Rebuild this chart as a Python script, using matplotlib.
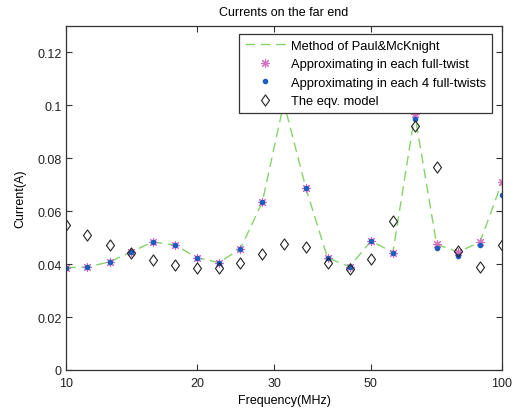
import numpy as np
import matplotlib
matplotlib.use('Agg')
from matplotlib import pyplot as plt
from matplotlib.path import Path
from matplotlib.ticker import FixedLocator, FixedFormatter, NullLocator

plt.rcParams['font.family'] = ['Liberation Sans', 'DejaVu Sans']

freq = [10, 11.2, 12.6, 14.1, 15.8, 17.8, 20, 22.4, 25.1, 28.2, 31.6,
        35.5, 39.8, 44.7, 50.1, 56.2, 63.1, 70.8, 79.4, 89.1, 100]
paul = [0.0387, 0.0389, 0.0409, 0.0446, 0.0484, 0.0472, 0.0424, 0.0406,
        0.0457, 0.0635, 0.101, 0.0687, 0.0424, 0.0390, 0.0488, 0.0444,
        0.0966, 0.0475, 0.0446, 0.0484, 0.0711]
each_twist = paul
each_4_twists = [0.0387, 0.0389, 0.0409, 0.0446, 0.0484, 0.0472, 0.0424, 0.0406,
                 0.0457, 0.0635, 0.101, 0.0687, 0.0424, 0.0390, 0.0488, 0.0444,
                 0.0950, 0.0462, 0.0431, 0.0473, 0.0660]
eqv_model = [0.0547, 0.0509, 0.0474, 0.0444, 0.0415, 0.0396, 0.0386, 0.0384,
             0.0403, 0.0437, 0.0478, 0.0463, 0.0406, 0.0380, 0.0419, 0.0563,
             0.0922, 0.0769, 0.0450, 0.0390, 0.0474]

xticks = [10, 20, 30, 50, 100]
yticks = [0, 0.02, 0.04, 0.06, 0.08, 0.1, 0.12]
ytick_labels = ['0', '0.02', '0.04', '0.06', '0.08', '0.1', '0.12']

# matlab-like diamond, a bit wider than matplotlib's thin 'd'
diamond = Path([(0, 1), (0.72, 0), (0, -1), (-0.72, 0), (0, 1)],
               [Path.MOVETO, Path.LINETO, Path.LINETO, Path.LINETO, Path.CLOSEPOLY])

fig = plt.figure(figsize=(5.15, 4.10), dpi=100)
ax = fig.add_axes([66/515, 1 - 371/410, 436/515, 344/410])

ax.plot(freq, paul, '--', color='#86d36a', lw=1.0, dashes=(7, 4),
        label='Method of Paul&McKnight')
ax.plot(freq, each_twist, ls='none', marker=(8, 2, 0), ms=6.5, mew=0.8,
        color='#d46fc2', label='Approximating in each full-twist')
ax.plot(freq, each_4_twists, ls='none', marker='.', ms=6,
        color='#1d5cc0', label='Approximating in each 4 full-twists')
ax.plot(freq, eqv_model, ls='none', marker=diamond, ms=8, mew=0.8,
        mfc='none', mec='#222222', label='The eqv. model')

ax.set_xscale('log')
ax.set_xlim(10, 100)
ax.set_ylim(0, 0.13)
ax.xaxis.set_major_locator(FixedLocator(xticks))
ax.xaxis.set_major_formatter(FixedFormatter([str(t) for t in xticks]))
ax.xaxis.set_minor_locator(NullLocator())
ax.yaxis.set_major_locator(FixedLocator(yticks))
ax.yaxis.set_major_formatter(FixedFormatter(ytick_labels))

ax.tick_params(direction='in', length=4, width=0.8, top=True, right=True,
               labelsize=9, colors='#333333', labelcolor='#222222', pad=3)
ax.tick_params(axis='x', pad=5)
for s in ax.spines.values():
    s.set_color('#333333')
    s.set_linewidth(0.9)

ax.set_title('Currents on the far end', fontsize=9, pad=8)
ax.set_xlabel('Frequency(MHz)', fontsize=9, labelpad=4)
ax.set_ylabel('Current(A)', fontsize=9, labelpad=8)

leg = ax.legend(loc='upper right', bbox_to_anchor=(492/515, 1 - 35/410),
                bbox_transform=fig.transFigure, fontsize=9.3, fancybox=False,
                framealpha=1, edgecolor='#333333', handlelength=3.2,
                handletextpad=0.4, labelspacing=0.5, borderpad=0.45,
                borderaxespad=0)
leg.get_frame().set_linewidth(0.9)

fig.savefig('out.png', dpi=100)
